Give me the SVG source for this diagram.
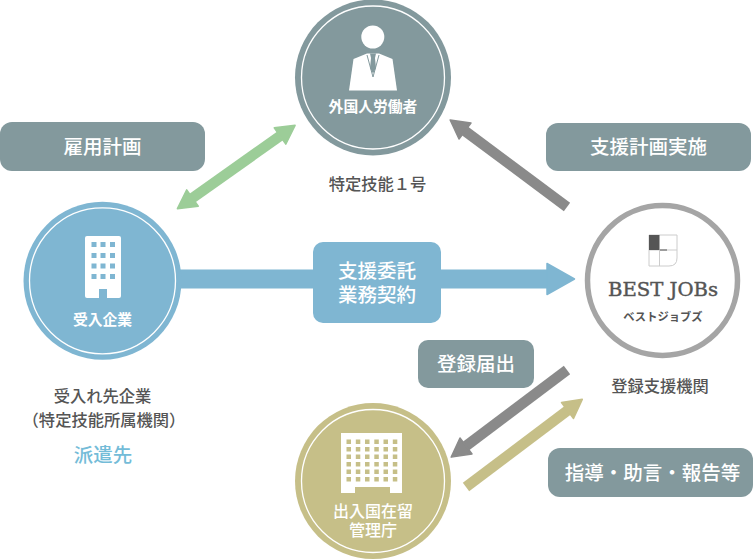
<svg xmlns="http://www.w3.org/2000/svg" width="753" height="560" viewBox="0 0 753 560">
<style>
text{font-family:"Noto Sans CJK JP","Noto Sans",sans-serif;text-anchor:middle}
.ring{fill:none;stroke:#fff;stroke-width:1.3}
.nl{fill:#fff;font-size:14.8px;font-weight:700}
.nm{fill:#fff;font-size:16px;font-weight:500}
.cap{fill:#555;font-size:16.300px;font-weight:500}
.lb{fill:#fff;font-size:19.500px;font-weight:500}
.tag{fill:#83999d}
.w1{fill:#7fb6d2}
.w2{fill:#c6bf88}
.ar{fill:none;stroke-width:10.500}
</style>
<defs>
<marker id="hg" markerUnits="userSpaceOnUse" markerWidth="26" markerHeight="26" viewBox="-3 -13 26 26" refX="0" refY="0" orient="auto"><path d="M0,-10L18.500,0L0,10z" fill="#8a8a8a" stroke="#8a8a8a" stroke-width="1.500" stroke-linejoin="round"/></marker>
<marker id="hgr" markerUnits="userSpaceOnUse" markerWidth="26" markerHeight="26" viewBox="-3 -13 26 26" refX="0" refY="0" orient="auto-start-reverse"><path d="M0,-10L18.500,0L0,10z" fill="#9ccd98" stroke="#9ccd98" stroke-width="1.500" stroke-linejoin="round"/></marker>
<marker id="hy" markerUnits="userSpaceOnUse" markerWidth="26" markerHeight="26" viewBox="-3 -13 26 26" refX="0" refY="0" orient="auto"><path d="M0,-10L18.500,0L0,10z" fill="#c6bf88" stroke="#c6bf88" stroke-width="1.500" stroke-linejoin="round"/></marker>
<marker id="hb" markerUnits="userSpaceOnUse" markerWidth="36" markerHeight="40" viewBox="-3 -20 36 40" refX="0" refY="0" orient="auto"><path d="M0,-15.500L27.500,0L0,15.500z" fill="#7fb6d2" stroke="#7fb6d2" stroke-width="1.500" stroke-linejoin="round"/></marker>
</defs>
<g id="connectors">
<line class="ar" x1="192.500" y1="198" x2="280" y2="136" stroke="#9ccd98" marker-start="url(#hgr)" marker-end="url(#hgr)"/>
<line class="ar" x1="567" y1="207" x2="465" y2="131" stroke="#8a8a8a" marker-end="url(#hg)"/>
<line x1="175" y1="279" x2="547" y2="279" stroke="#7fb6d2" stroke-width="19" marker-end="url(#hb)"/>
<line class="ar" x1="567" y1="370" x2="466" y2="446" stroke="#8a8a8a" marker-end="url(#hg)"/>
<line class="ar" x1="466" y1="487" x2="567.500" y2="410.500" stroke="#c6bf88" marker-end="url(#hy)"/>
</g>
<g id="worker">
<circle cx="373" cy="77.500" r="78" fill="#83999d"/>
<circle class="ring" cx="373" cy="77.500" r="71.500"/>
<circle cx="372.800" cy="37" r="11.500" fill="#fff"/>
<path d="M349,90.500L353.500,59L367,53.500H379L392.500,59L397,90.500z" fill="#fff"/>
<path d="M370,53.500H376L375,58L376,68L373,73.500L370,68L371,58z" fill="#83999d"/>
<path d="M367,55L373,77L379,55" fill="none" stroke="#83999d" stroke-width="1"/>
<text class="nl" x="373" y="112">外国人労働者</text>
</g>
<text class="cap" x="377.500" y="190">特定技能１号</text>
<g id="company">
<circle cx="102.500" cy="280.800" r="79" fill="#7fb6d2"/>
<circle class="ring" cx="102.500" cy="280.800" r="73"/>
<rect x="85" y="236" width="36" height="62" rx="2" fill="#fff"/>
<g class="w1">
<rect x="91.500" y="242" width="5" height="5"/><rect x="100.500" y="242" width="5" height="5"/><rect x="110" y="242" width="5" height="5"/>
<rect x="91.500" y="253" width="5" height="5"/><rect x="100.500" y="253" width="5" height="5"/><rect x="110" y="253" width="5" height="5"/>
<rect x="91.500" y="263.500" width="5" height="5"/><rect x="100.500" y="263.500" width="5" height="5"/><rect x="110" y="263.500" width="5" height="5"/>
<rect x="91.500" y="274" width="5" height="5"/><rect x="100.500" y="274" width="5" height="5"/><rect x="110" y="274" width="5" height="5"/>
<rect x="99" y="289" width="8" height="9"/>
</g>
<text class="nl" x="102.500" y="325">受入企業</text>
</g>
<text class="cap" x="102.500" y="402">受入れ先企業</text>
<text class="cap" x="104" y="426">（特定技能所属機関）</text>
<text x="103" y="462" fill="#74bcd8" font-size="19.500" font-weight="500">派遣先</text>
<g id="bestjobs">
<circle cx="662.500" cy="280.500" r="75" fill="#fff" stroke="#a5a5a5" stroke-width="5.500"/>
<path d="M649,235H677V258Q677,266 669,266H649z" fill="#fff" stroke="#ccc"/>
<path d="M659.500,250V266M649,250H677" stroke="#ccc" fill="none"/>
<rect x="649" y="235" width="10.500" height="15" fill="#555"/>
<path d="M660,250H667" stroke="#555" fill="none"/>
<text x="663" y="296" fill="#555" stroke="#555" stroke-width="0.400" style="font-family:'DejaVu Serif',serif" font-size="18" textLength="110" lengthAdjust="spacingAndGlyphs">BEST JOBs</text>
<text x="663" y="321" fill="#555" font-size="11.300" font-weight="700">ベストジョブズ</text>
</g>
<text class="cap" x="660" y="392">登録支援機関</text>
<g id="immigration">
<circle cx="373" cy="481" r="78" fill="#c6bf88"/>
<circle class="ring" cx="373" cy="481" r="71.500"/>
<path d="M341,433H402V493H390V487H355V493H341z" fill="#fff"/>
<g class="w2">
<rect x="346.500" y="439.500" width="4.500" height="4.500"/><rect x="355.800" y="439.500" width="4.500" height="4.500"/><rect x="365" y="439.500" width="4.500" height="4.500"/><rect x="374.300" y="439.500" width="4.500" height="4.500"/><rect x="383.500" y="439.500" width="4.500" height="4.500"/><rect x="392.800" y="439.500" width="4.500" height="4.500"/>
<rect x="346.500" y="447" width="4.500" height="4.500"/><rect x="355.800" y="447" width="4.500" height="4.500"/><rect x="365" y="447" width="4.500" height="4.500"/><rect x="374.300" y="447" width="4.500" height="4.500"/><rect x="383.500" y="447" width="4.500" height="4.500"/><rect x="392.800" y="447" width="4.500" height="4.500"/>
<rect x="346.500" y="454.500" width="4.500" height="4.500"/><rect x="355.800" y="454.500" width="4.500" height="4.500"/><rect x="365" y="454.500" width="4.500" height="4.500"/><rect x="374.300" y="454.500" width="4.500" height="4.500"/><rect x="383.500" y="454.500" width="4.500" height="4.500"/><rect x="392.800" y="454.500" width="4.500" height="4.500"/>
<rect x="346.500" y="462" width="4.500" height="4.500"/><rect x="355.800" y="462" width="4.500" height="4.500"/><rect x="365" y="462" width="4.500" height="4.500"/><rect x="374.300" y="462" width="4.500" height="4.500"/><rect x="383.500" y="462" width="4.500" height="4.500"/><rect x="392.800" y="462" width="4.500" height="4.500"/>
<rect x="346.500" y="469.500" width="4.500" height="4.500"/><rect x="355.800" y="469.500" width="4.500" height="4.500"/><rect x="365" y="469.500" width="4.500" height="4.500"/><rect x="374.300" y="469.500" width="4.500" height="4.500"/><rect x="383.500" y="469.500" width="4.500" height="4.500"/><rect x="392.800" y="469.500" width="4.500" height="4.500"/>
<rect x="346.500" y="477" width="4.500" height="4.500"/><rect x="355.800" y="477" width="4.500" height="4.500"/><rect x="365" y="477" width="4.500" height="4.500"/><rect x="374.300" y="477" width="4.500" height="4.500"/><rect x="383.500" y="477" width="4.500" height="4.500"/><rect x="392.800" y="477" width="4.500" height="4.500"/>
</g>
<text class="nm"><tspan x="373" y="517">出入国在留</tspan><tspan x="373" y="536">管理庁</tspan></text>
</g>
<g id="tag-koyou"><rect class="tag" x="0" y="122" width="205" height="49" rx="12"/><text class="lb" x="102.500" y="154">雇用計画</text></g>
<g id="tag-shien"><rect class="tag" x="546" y="123" width="205" height="48" rx="12"/><text class="lb" x="648.500" y="154">支援計画実施</text></g>
<g id="tag-itaku"><rect x="313" y="242" width="128" height="81" rx="10" fill="#7fb6d2"/><text class="lb"><tspan x="377" y="278">支援委託</tspan><tspan x="377" y="302">業務契約</tspan></text></g>
<g id="tag-touroku"><rect class="tag" x="418" y="340" width="116" height="48" rx="10"/><text class="lb" x="476" y="371">登録届出</text></g>
<g id="tag-shidou"><rect class="tag" x="548" y="448" width="205" height="49" rx="12"/><text class="lb" x="652.500" y="480">指導・助言・報告等</text></g>
</svg>
